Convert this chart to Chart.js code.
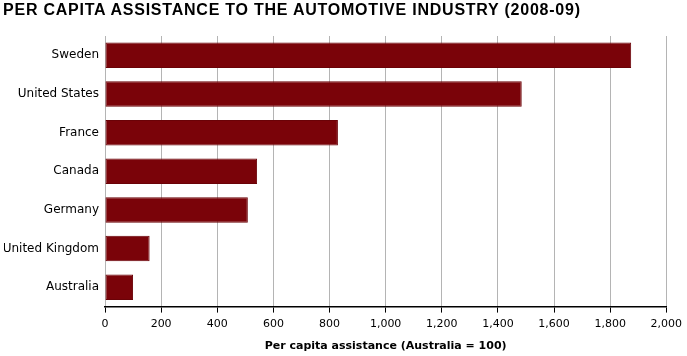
<!DOCTYPE html>
<html><head><meta charset="utf-8">
<script src="https://cdn.jsdelivr.net/npm/chart.js@4/dist/chart.umd.min.js"></script>
<style>html,body{margin:0;padding:0;background:#fff}#wrap{position:relative;width:687px;height:356px}
#title{position:absolute;left:3px;top:2px;font:bold 16px/16px "Liberation Sans",Arial,sans-serif;letter-spacing:0.77px;color:#000;white-space:nowrap}</style>
</head><body><div id="wrap"><div id="title"></div><canvas id="c"></canvas></div>
<script>
const categories = ["Sweden","United States","France","Canada","Germany","United Kingdom","Australia"];
const values = [1875, 1485, 830, 542, 509, 159, 100];
const xTicks = [0,200,400,600,800,1000,1200,1400,1600,1800,2000];
const titleText = "PER CAPITA ASSISTANCE TO THE AUTOMOTIVE INDUSTRY (2008-09)";
const xTitle = "Per capita assistance (Australia = 100)";
document.getElementById('title').textContent = titleText;

new Chart(document.getElementById('c'), {
  type: 'bar',
  data: { labels: categories, datasets: [{ data: values, backgroundColor: '#7a0309', borderColor: '#6a0207', borderWidth: 1, borderSkipped: false, categoryPercentage: 0.66, barPercentage: 1 }] },
  options: {
    indexAxis: 'y', responsive: true, maintainAspectRatio: false, animation: false,
    layout: { padding: { left: 4, right: 4, top: 36, bottom: 3 } },
    plugins: {
      legend: { display: false }, tooltip: { enabled: false }, title: { display: false }
    },
    scales: {
      x: { min: 0, max: 2000, afterBuildTicks: s => { s.ticks = xTicks.map(v => ({ value: v })); },
        ticks: { color: '#000', font: { family: 'DejaVu Sans', size: 11 }, padding: 5, maxRotation: 0,
          callback: v => v.toLocaleString('en-US') },
        grid: { color: '#b4b4b4', lineWidth: 1, tickColor: '#000', tickLength: 6, drawTicks: true },
        border: { display: true, color: '#000', width: 1.5 },
        title: { display: true, text: xTitle, color: '#000', font: { family: 'DejaVu Sans', size: 11, weight: 'bold' }, padding: { top: 4, bottom: 0 } } },
      y: { grid: { display: false, drawTicks: false, tickLength: 0 }, border: { display: false }, afterFit: s => { s.width = 101; },
        ticks: { color: '#000', font: { family: 'DejaVu Sans', size: 12 }, padding: 6 } }
    }
  }
});
</script></body></html>
